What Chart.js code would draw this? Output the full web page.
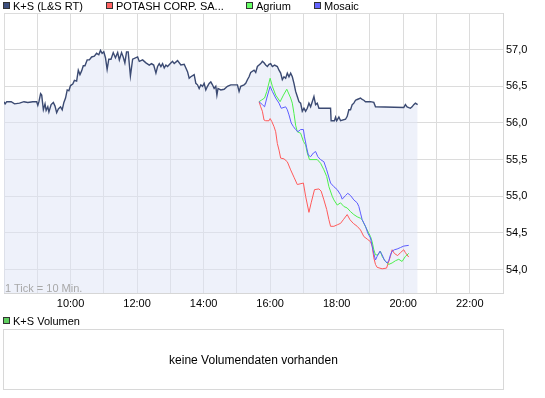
<!DOCTYPE html>
<html>
<head>
<meta charset="utf-8">
<script src="https://cdn.jsdelivr.net/npm/chart.js@4.4.0/dist/chart.umd.min.js"></script>
<style>
    body { margin: 0; background: #fff; font-family: "Liberation Sans", Arial, sans-serif; font-size: 11px; color: #000; }
    #wrap { position: relative; width: 545px; height: 398px; overflow: hidden; }
    #chart { position: absolute; left: 0; top: 0; }
    .leg { position: absolute; height: 12px; line-height: 12px; white-space: nowrap; }
    .leg .sq { position: absolute; left: 0; top: 2px; width: 5px; height: 5px; border: 1px solid #333; }
    .leg span { position: absolute; left: 10px; top: 0; }
    #tick { position: absolute; left: 5px; top: 282px; line-height: 12px; color: #a8a8a8; }
    #volBox { position: absolute; left: 3px; top: 329px; width: 501px; height: 61px; box-sizing: border-box; border: 1px solid #d8d8d8; }
    #volText { position: absolute; left: 0; right: 0; top: 23px; text-align: center; font-size: 12px; line-height: 14px; }
</style>
</head>
<body>
<div id="wrap">
    <canvas id="chart" width="545" height="398"></canvas>
    <div class="leg" style="left:3px;top:0"><div class="sq" style="background:#3d4f7e"></div><span>K+S (L&amp;S RT)</span></div>
    <div class="leg" style="left:106px;top:0"><div class="sq" style="background:#ff6262"></div><span>POTASH CORP. SA...</span></div>
    <div class="leg" style="left:246px;top:0"><div class="sq" style="background:#66ff66"></div><span>Agrium</span></div>
    <div class="leg" style="left:314px;top:0"><div class="sq" style="background:#6464ff"></div><span>Mosaic</span></div>
    <div id="tick">1 Tick = 10 Min.</div>
    <div class="leg" style="left:3px;top:315px"><div class="sq" style="background:#5fcf5f"></div><span>K+S Volumen</span></div>
    <div id="volBox"><div id="volText">keine Volumendaten vorhanden</div></div>
</div>
<script>
// K+S (L&S RT)
const ksTimes = ['08:00','08:02','08:05','08:13','08:19','08:28','08:36','08:43','08:52','08:59','09:01','09:03','09:06','09:08','09:11','09:14','09:16','09:19','09:21','09:25',
    '09:29','09:32','09:35','09:38','09:42','09:45','09:48','09:51','09:54','09:57','10:00','10:04','10:07','10:11','10:14','10:17','10:20','10:23','10:26','10:30',
    '10:34','10:38','10:43','10:47','10:51','10:54','10:57','11:00','11:03','11:06','11:09','11:13','11:17','11:21','11:25','11:28','11:32','11:35','11:38','11:41',
    '11:44','11:48','11:52','12:01','12:04','12:10','12:16','12:22','12:26','12:30','12:34','12:37','12:40','12:43','12:46','12:49','12:52','12:55','13:00','13:04',
    '13:07','13:13','13:19','13:25','13:31','13:34','13:37','13:43','13:46','13:49','13:52','13:55','13:58','14:01','14:04','14:07','14:10','14:13','14:16','14:19',
    '14:22','14:24','14:26','14:31','14:37','14:43','14:49','15:01','15:04','15:07','15:13','15:16','15:19','15:22','15:25','15:31','15:34','15:37','15:40','15:43',
    '15:46','15:49','15:52','15:55','15:58','16:01','16:04','16:08','16:13','16:16','16:19','16:22','16:25','16:28','16:31','16:34','16:37','16:40','16:43','16:46',
    '16:49','16:52','16:55','16:58','17:01','17:04','17:07','17:10','17:13','17:16','17:19','17:22','17:25','17:28','17:49','17:50','17:56','17:58','18:00','18:04',
    '18:07','18:16','18:19','18:22','18:25','18:28','18:31','18:34','18:37','18:43','18:46','18:49','18:52','19:01','19:07','19:10','20:01','20:04','20:07','20:13',
    '20:16','20:19','20:22','20:26'];
const ksValues = [56.29,56.26,56.29,56.29,56.26,56.27,56.29,56.28,56.29,56.29,56.24,56.29,56.40,56.38,56.18,56.26,56.17,56.22,56.15,56.25,
    56.28,56.23,56.14,56.19,56.22,56.18,56.28,56.34,56.45,56.44,56.51,56.53,56.58,56.57,56.72,56.66,56.71,56.78,56.78,56.86,
    56.86,56.90,56.91,56.95,56.93,56.99,56.95,56.97,56.89,56.73,56.87,56.87,56.96,56.89,56.96,56.86,56.96,56.90,56.82,56.97,
    56.97,56.64,56.87,56.90,56.84,56.86,56.82,56.79,56.81,56.79,56.68,56.77,56.81,56.77,56.81,56.75,56.79,56.77,56.81,56.84,
    56.81,56.85,56.79,56.80,56.70,56.61,56.63,56.66,56.54,56.52,56.47,56.52,56.50,56.54,56.45,56.50,56.54,56.56,56.52,56.47,
    56.50,56.38,56.47,56.45,56.46,56.50,56.52,56.52,56.43,56.50,56.52,56.54,56.59,56.63,56.69,56.72,56.69,56.77,56.79,56.81,
    56.84,56.82,56.79,56.77,56.80,56.81,56.77,56.79,56.77,56.72,56.68,56.59,56.63,56.61,56.68,56.63,56.68,56.63,56.54,56.43,
    56.36,56.29,56.27,56.16,56.20,56.16,56.20,56.27,56.22,56.29,56.36,56.25,56.27,56.20,56.20,56.03,56.03,56.08,56.03,56.08,
    56.03,56.05,56.09,56.18,56.18,56.25,56.27,56.31,56.32,56.34,56.32,56.31,56.29,56.29,56.28,56.22,56.21,56.25,56.22,56.20,
    56.22,56.25,56.27,56.25];

// POTASH CORP. SA...
const potTimes = ['15:40','15:43','15:46','15:49','15:52','15:58','16:00','16:03','16:07','16:10','16:13','16:16','16:19','16:25','16:31','16:37','16:43','16:49','17:00','17:04',
    '17:10','17:14','17:20','17:28','17:32','17:37','17:42','17:46','17:49','17:55','18:01','18:07','18:12','18:19','18:24','18:30','18:37','18:43','18:49','18:56',
    '19:01','19:04','19:07','19:10','19:13','19:22','19:30','19:33','19:37','19:40','19:44','19:50','19:55','20:01','20:04','20:10'];
const potValues = [56.29,56.22,56.16,56.04,56.03,56.03,56.06,56.02,55.95,55.88,55.72,55.63,55.52,55.51,55.47,55.36,55.26,55.16,55.18,55.00,
    54.78,54.91,55.09,55.10,55.07,54.95,54.82,54.68,54.59,54.59,54.61,54.63,54.68,54.75,54.68,54.63,54.59,54.54,54.45,54.41,
    54.38,54.32,54.16,54.07,54.03,54.01,54.02,54.09,54.18,54.27,54.22,54.19,54.23,54.27,54.23,54.17];

// Agrium
const agrTimes = ['15:40','15:44','15:50','15:54','16:00','16:04','16:10','16:18','16:24','16:30','16:37','16:40','16:43','16:46','16:49','16:55','17:00','17:04','17:07','17:11',
    '17:25','17:31','17:37','17:42','17:46','17:52','17:55','18:01','18:07','18:13','18:19','18:25','18:31','18:37','18:43','18:46','18:49','18:55','19:01','19:04',
    '19:07','19:10','19:14','19:19','19:22','19:28','19:34','19:40','19:46','19:52','19:58','20:04','20:10'];
const agrValues = [56.29,56.31,56.34,56.43,56.61,56.50,56.38,56.29,56.38,56.46,56.34,56.27,56.13,55.97,55.88,55.86,55.75,55.70,55.59,55.50,
    55.50,55.45,55.36,55.27,55.13,55.00,54.95,54.88,54.91,54.86,54.84,54.79,54.75,54.72,54.70,54.68,54.63,54.54,54.45,54.38,
    54.27,54.20,54.20,54.25,54.18,54.11,54.07,54.09,54.12,54.14,54.11,54.18,54.22];

// Mosaic
const mosTimes = ['15:40','15:46','15:50','15:54','16:00','16:04','16:10','16:16','16:20','16:28','16:31','16:34','16:38','16:42','16:46','16:50','16:55','17:00','17:02','17:06',
    '17:09','17:13','17:18','17:22','17:26','17:31','17:37','17:42','17:49','17:55','18:01','18:07','18:10','18:16','18:20','18:25','18:31','18:37','18:40','18:43',
    '18:46','18:52','18:56','19:01','19:04','19:07','19:10','19:13','19:18','19:22','19:26','19:31','19:34','19:37','19:40','19:44','19:49','19:55','20:01','20:10'];
const mosValues = [56.29,56.25,56.22,56.34,56.50,56.43,56.34,56.27,56.20,56.22,56.18,56.11,56.00,55.95,55.91,55.88,55.91,55.91,55.81,55.66,
    55.56,55.54,55.59,55.61,55.54,55.50,55.47,55.36,55.18,55.13,55.09,55.02,54.96,55.01,55.04,55.01,54.95,54.91,54.86,54.77,
    54.68,54.59,54.50,54.43,54.32,54.22,54.13,54.18,54.25,54.20,54.13,54.09,54.12,54.20,54.25,54.27,54.28,54.30,54.32,54.33];

const hourTicks = [8, 9, 10, 11, 12, 13, 14, 15, 16, 17, 18, 19, 20, 21, 22, 23];
const priceTicks = [54.0, 54.5, 55.0, 55.5, 56.0, 56.5, 57.0, 57.5];

const FONT = { family: "'Liberation Sans', Arial, sans-serif", size: 11 };

function toHours(t) {
    const p = t.split(':');
    return Number(p[0]) + Number(p[1]) / 60;
}

function points(times, values) {
    return times.map((t, i) => ({ x: toHours(t), y: values[i] }));
}

new Chart(document.getElementById('chart'), {
    type: 'line',
    data: {
        datasets: [
            { label: 'K+S (L&S RT)', data: points(ksTimes, ksValues), borderColor: '#3b4a72', borderWidth: 1.4,
              fill: 'start', backgroundColor: 'rgba(221,227,245,0.5)', order: 4 },
            { label: 'POTASH CORP. SA...', data: points(potTimes, potValues), borderColor: '#ff5a5a', borderWidth: 1, order: 3 },
            { label: 'Agrium', data: points(agrTimes, agrValues), borderColor: '#4cf04c', borderWidth: 1, order: 2 },
            { label: 'Mosaic', data: points(mosTimes, mosValues), borderColor: '#5c5cff', borderWidth: 1, order: 1 }
        ]
    },
    options: {
        responsive: false,
        animation: false,
        devicePixelRatio: 1,
        layout: { padding: { left: 3, top: 13, right: 0, bottom: 0 } },
        elements: { point: { radius: 0 }, line: { tension: 0 } },
        plugins: {
            legend: { display: false },
            tooltip: { enabled: false },
            filler: { drawTime: 'beforeDatasetsDraw' }
        },
        scales: {
            x: {
                type: 'linear', min: 8, max: 23,
                afterFit: (s) => { s.height = 105; },
                afterBuildTicks: (s) => { s.ticks = hourTicks.map(v => ({ value: v })); },
                grid: { color: '#dcdcdc', drawTicks: false },
                border: { color: '#d6d6d6' },
                ticks: {
                    autoSkip: false, maxRotation: 0, padding: 4, color: '#000', font: FONT,
                    callback: (v) => (v >= 10 && v <= 22 && v % 2 === 0) ? v + ':00' : ''
                }
            },
            y: {
                position: 'right', min: 53.68, max: 57.5,
                afterFit: (s) => { s.width = 42; },
                afterBuildTicks: (s) => { s.ticks = priceTicks.map(v => ({ value: v })); },
                grid: { color: '#dcdcdc', drawTicks: false },
                border: { color: '#d6d6d6' },
                ticks: {
                    padding: 3, crossAlign: 'near', color: '#000', font: FONT,
                    callback: (v) => v >= 57.5 ? '' : v.toFixed(1).replace('.', ',')
                }
            }
        }
    }
});
</script>
</body>
</html>
